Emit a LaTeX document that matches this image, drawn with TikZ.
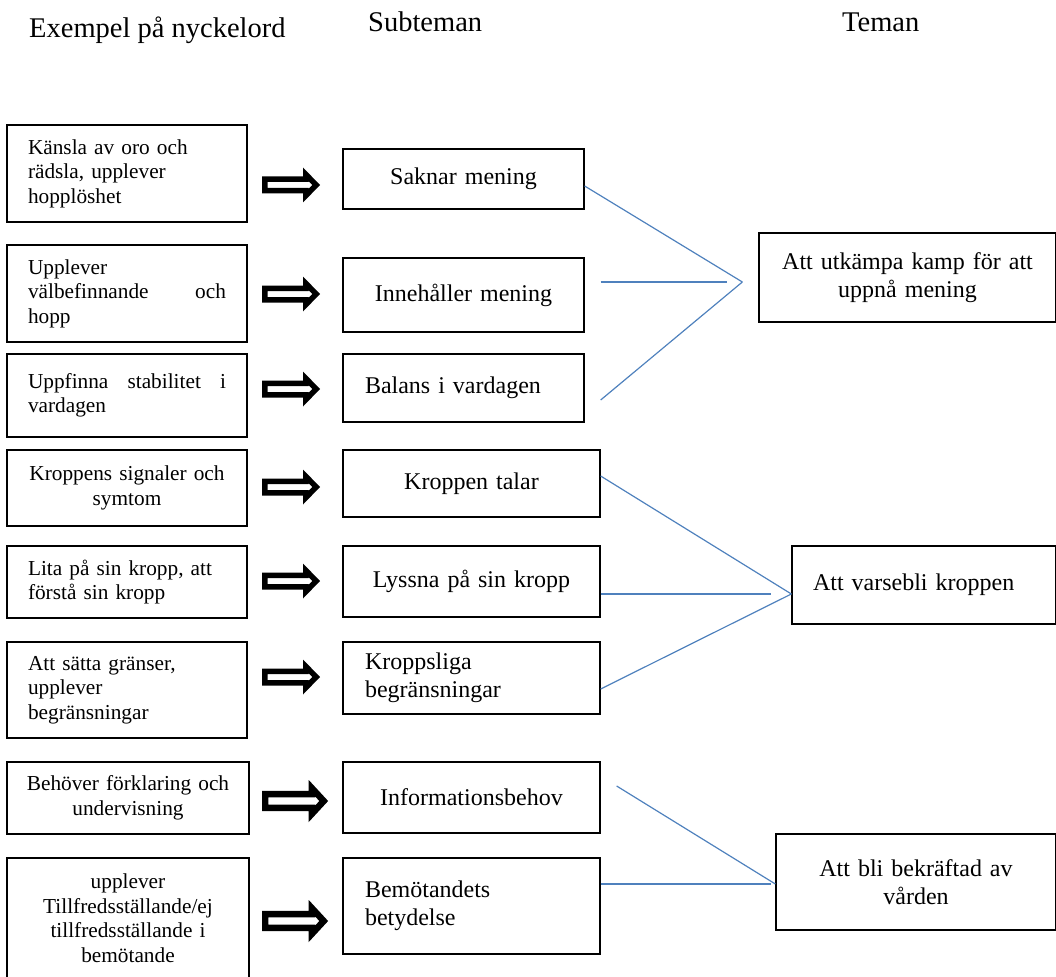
\documentclass[tikz,border=0pt]{standalone}
\usepackage{fontspec}
\setmainfont{Liberation Serif}
\definecolor{blaa}{RGB}{79,129,189}
\tikzset{
  pil/.pic={
    \fill[even odd rule] (0,-8.5) -- (41,-8.5) -- (41,-17.5) -- (58,0) -- (41,17.5) -- (41,8.5) -- (0,8.5) -- cycle
      (5.5,-3) -- (46.5,-3) -- (46.5,-3.9) -- (50.3,0) -- (46.5,3.9) -- (46.5,3) -- (5.5,3) -- cycle;
  },
  ruta/.style={draw, line width=1.3pt, inner sep=0pt},
  ord/.style={ruta, minimum width=240pt, text width=198pt, font=\fontsize{21.3}{24.5}\selectfont},
  sub/.style={ruta, font=\fontsize{24}{27.5}\selectfont},
  tema/.style={ruta, font=\fontsize{24}{27.5}\selectfont},
  rubrik/.style={anchor=base west, inner sep=0pt, font=\fontsize{28.5}{32}\selectfont},
  linje/.style={draw=blaa, line width=1.2pt}
}
\begin{document}
\begin{tikzpicture}[x=1pt,y=-1pt]
\useasboundingbox (0,0) rectangle (1056,976);
\clip (0,0) rectangle (1056,976);
% rubriker
\node[rubrik] (R1) at (29,38) {Exempel på nyckelord};
\node[rubrik] (R2) at (368,32) {Subteman};
\node[rubrik] (R3) at (842,32) {Teman};
% nyckelord
\node[ord, minimum height=97pt, align=left] (K1) at (127,173.5) {Känsla av oro och\\ rädsla, upplever\\ hopplöshet};
\node[ord, minimum height=97pt, align=left] (K2) at (127,293.5) {Upplever\\ \makebox[198pt]{välbefinnande\hfill och}\\ hopp};
\node[ord, minimum height=83pt, align=left] (K3) at (127,395.5) {\makebox[198pt]{Uppfinna\hfill stabilitet\hfill i}\\ vardagen};
\node[ord, minimum height=76pt, align=center] (K4) at (127,488) {Kroppens signaler och\\ symtom};
\node[ord, minimum height=72pt, align=left] (K5) at (127,582) {Lita på sin kropp, att\\ förstå sin kropp};
\node[ord, minimum height=96pt, align=left] (K6) at (127,690) {Att sätta gränser,\\ upplever\\ begränsningar};
\node[ord, minimum width=242pt, text width=204pt, minimum height=72pt, align=center] (K7) at (128,798) {Behöver förklaring och\\ undervisning};
\node[ord, minimum width=242pt, text width=204pt, minimum height=120pt, align=center] (K8) at (128,918) {upplever\\ Tillfredsställande/ej\\ tillfredsställande i\\ bemötande};
% pilar
\pic at (262,185) {pil};
\pic at (262,294) {pil};
\pic at (262,389) {pil};
\pic at (262,487) {pil};
\pic at (262,581) {pil};
\pic at (262,677) {pil};
\pic[xscale=1.14, yscale=1.2] at (262,801) {pil};
\pic[xscale=1.14, yscale=1.2] at (262,921) {pil};
% subteman
\node[sub, minimum width=241pt, minimum height=60pt, text width=197pt, align=center] (S1) at (463.5,179) {Saknar mening};
\node[sub, minimum width=241pt, minimum height=74pt, text width=197pt, align=center] (S2) at (463.5,295) {Innehåller mening};
\node[sub, minimum width=241pt, minimum height=68pt, text width=197pt, align=left] (S3) at (463.5,388) {Balans i vardagen};
\node[sub, minimum width=257pt, minimum height=67pt, text width=213pt, align=center] (S4) at (471.5,483.5) {Kroppen talar};
\node[sub, minimum width=257pt, minimum height=71pt, text width=213pt, align=center] (S5) at (471.5,581.5) {Lyssna på sin kropp};
\node[sub, minimum width=257pt, minimum height=72pt, text width=213pt, align=left] (S6) at (471.5,678) {Kroppsliga\\ begränsningar};
\node[sub, minimum width=257pt, minimum height=71pt, text width=213pt, align=center] (S7) at (471.5,797.5) {Informationsbehov};
\node[sub, minimum width=257pt, minimum height=96pt, text width=213pt, align=left] (S8) at (471.5,906) {Bemötandets\\ betydelse\par\vspace{18pt}};
% teman
\node[tema, minimum width=297pt, minimum height=89pt, text width=260pt, align=center] (T1) at (907.5,277.5) {Att utkämpa kamp för att\\ uppnå mening};
\node[tema, minimum width=264pt, minimum height=78pt, text width=222pt, align=left] (T2) at (924,585) {Att varsebli kroppen};
\node[tema, minimum width=280pt, minimum height=96pt, text width=240pt, align=center] (T3) at (916,882) {Att bli bekräftad av\\ vården};
\coordinate (A1) at ([xshift=-16pt,yshift=-4.5pt]T1.west);
\coordinate (A2) at ([yshift=-9pt]T2.west);
\coordinate (A3) at ([yshift=-2pt]T3.west);
% linjer
\draw[linje] ([yshift=-7pt]S1.east) -- (A1);
\draw[linje] ([xshift=16pt,yshift=13pt]S2.east) -- ([xshift=-15pt]A1);
\draw[linje] ([xshift=16pt,yshift=-12pt]S3.east) -- (A1);
\draw[linje] ([yshift=7.5pt]S4.east) -- (A2);
\draw[linje] ([yshift=-12.5pt]S5.east) -- ([xshift=-20pt]A2);
\draw[linje] ([yshift=-11pt]S6.east) -- (A2);
\draw[linje] ([xshift=16pt,yshift=11.5pt]S7.east) -- (A3);
\draw[linje] ([yshift=22pt]S8.east) -- ([xshift=-4pt]A3);
\end{tikzpicture}
\end{document}
